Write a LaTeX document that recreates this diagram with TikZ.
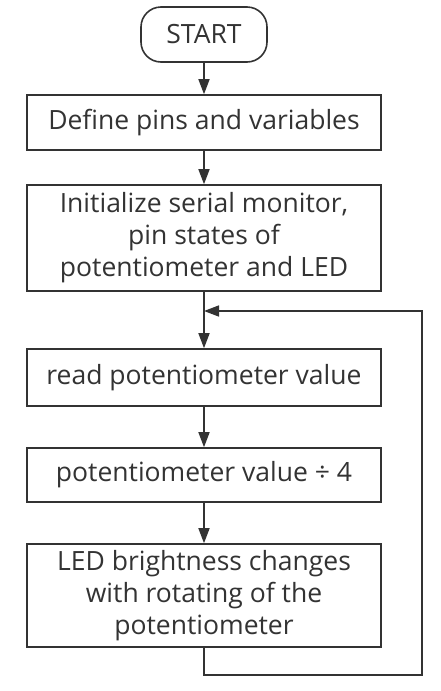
\documentclass[tikz,border=0pt]{standalone}
\usepackage{fontspec}
\setmainfont{Open Sans}
\usetikzlibrary{arrows.meta}
\definecolor{ink}{HTML}{333333}
\begin{document}
\begin{tikzpicture}[x=1pt,y=-1pt,
  every node/.style={font=\fontsize{26.5}{32}\selectfont, text=ink},
  box/.style={draw=ink, line width=1.6pt, minimum width=354pt, align=center, inner sep=0pt},
  term/.style={draw=ink, line width=1.6pt, minimum width=126pt, minimum height=55pt, rounded corners=20pt, inner sep=0pt},
  arr/.style={draw=ink, line width=1.6pt, -{Triangle[length=15pt,width=11pt]}},
  ln/.style={draw=ink, line width=1.6pt}]
\fill[white] (0,0) rectangle (441,691);
\useasboundingbox (0,0) rectangle (441,691);
\node[term] (start) at (204,34.5) {START};
\node[box, minimum height=55pt] (b1) at (204,122.5) {Define pins and variables};
\node[box, minimum height=106pt] (b2) at (204,238) {Initialize serial monitor,\\pin states of\\potentiometer and LED};
\node[box, minimum height=57pt] (b3) at (204,377.5) {read potentiometer value};
\node[box, minimum height=54pt] (b4) at (204,475) {potentiometer value ÷ 4};
\node[box, minimum height=103pt] (b5) at (204,595.5) {LED brightness changes\\with rotating of the\\potentiometer};
\coordinate (m) at (204,311);
\coordinate (lc) at (422,675);
\coordinate (rc) at (422,311);
\draw[arr] (start) -- (b1);
\draw[arr] (b1) -- (b2);
\draw[arr] (b2) -- (b3);
\draw[arr] (b3) -- (b4);
\draw[arr] (b4) -- (b5);
\draw[arr, line join=miter] (b5.south) |- (lc) -- (rc) -- (m);
\end{tikzpicture}
\end{document}
